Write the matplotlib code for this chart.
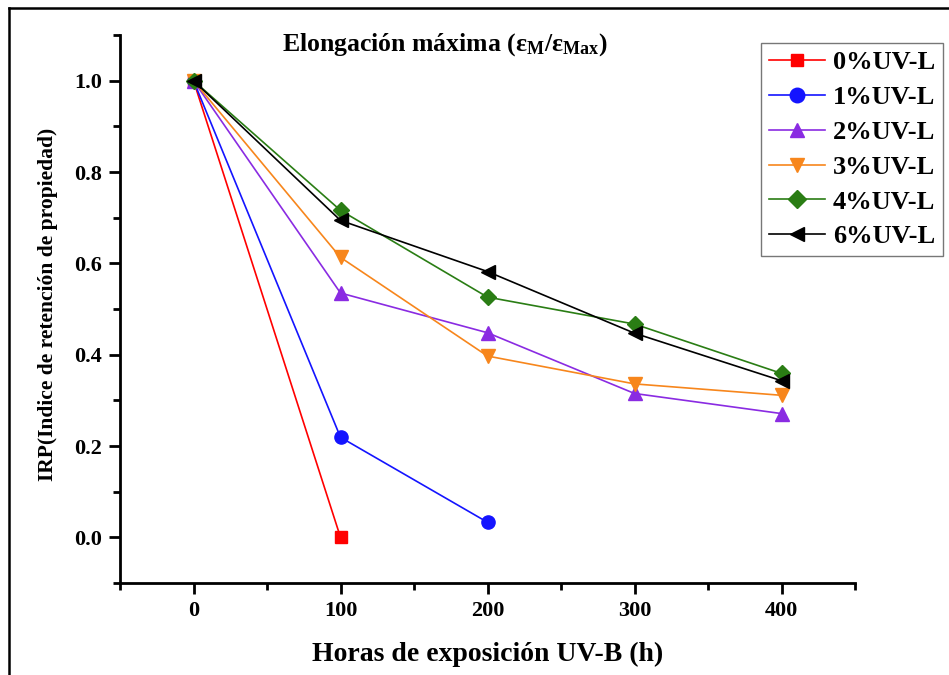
import matplotlib
matplotlib.use("Agg")
import matplotlib.pyplot as plt
from matplotlib.ticker import MultipleLocator
from matplotlib.lines import Line2D

plt.rcParams['font.family'] = ['Liberation Serif', 'DejaVu Serif']
plt.rcParams['font.weight'] = 'bold'
plt.rcParams['mathtext.fontset'] = 'custom'
plt.rcParams['mathtext.rm'] = 'Liberation Serif:bold'
plt.rcParams['mathtext.it'] = 'Liberation Serif:bold'
plt.rcParams['mathtext.bf'] = 'Liberation Serif:bold'

hours = [0, 100, 200, 300, 400]
labels = ["0%UV-L", "1%UV-L", "2%UV-L", "3%UV-L", "4%UV-L", "6%UV-L"]
irp_0 = [1.0, 0.0]
irp_1 = [1.0, 0.219, 0.033]
irp_2 = [1.0, 0.535, 0.448, 0.315, 0.271]
irp_3 = [1.0, 0.613, 0.397, 0.336, 0.311]
irp_4 = [1.0, 0.716, 0.526, 0.467, 0.359]
irp_6 = [1.0, 0.694, 0.582, 0.447, 0.343]

series = [irp_0, irp_1, irp_2, irp_3, irp_4, irp_6]
colors = ['#ff0000', '#1414ff', '#8a2be2', '#f7861c', '#2a7d14', '#000000']
markers = ['s', 'o', '^', 'v', 'D', '<']
msizes = [8, 9.5, 9.5, 9.5, 8.5, 9.5]

fig = plt.figure(figsize=(9.49, 6.75), dpi=100)
ax = fig.add_axes([120/949, 1-583/675, 735/949, 548/675])

for vals, c, m, ms, lab in zip(series, colors, markers, msizes, labels):
    ax.plot(hours[:len(vals)], vals, color=c, marker=m, markersize=ms,
            markerfacecolor=c, markeredgecolor=c, linewidth=1.2, label=lab)

ax.set_xlim(-50, 450)
ax.set_ylim(-0.1, 1.1)
ax.xaxis.set_major_locator(MultipleLocator(100))
ax.xaxis.set_minor_locator(MultipleLocator(50))
ax.yaxis.set_major_locator(MultipleLocator(0.2))
ax.yaxis.set_minor_locator(MultipleLocator(0.1))
ax.set_yticks([0.0, 0.2, 0.4, 0.6, 0.8, 1.0])
ax.set_xticks([0, 100, 200, 300, 400])
ax.yaxis.set_major_formatter(matplotlib.ticker.FormatStrFormatter('%.1f'))

for s in ['top', 'right']:
    ax.spines[s].set_visible(False)
for s in ['left', 'bottom']:
    ax.spines[s].set_linewidth(2)
ax.tick_params(which='major', direction='out', length=8, width=2, labelsize=16, pad=5)
ax.tick_params(which='minor', direction='out', length=5, width=2)
for t in ax.get_xticklabels() + ax.get_yticklabels():
    t.set_fontweight('bold')

ax.set_xlabel('Horas de exposición UV-B (h)', fontsize=20, fontweight='bold')
ax.set_ylabel('IRP(Indice de retención de propiedad)', fontsize=15.5, fontweight='bold')
ax.xaxis.set_label_coords(0.5, -0.108)
ax.yaxis.set_label_coords(-0.084, 0.509)

ax.text(0.442, 0.982, r'Elongación máxima ($\mathbf{\varepsilon_M/\varepsilon_{Max}}$)',
        transform=ax.transAxes, ha='center', va='center', fontsize=18.5, fontweight='bold')

leg = fig.legend(loc='upper right', bbox_to_anchor=(943/949, 1-43/675),
                 fontsize=19, frameon=True, fancybox=False, edgecolor='#555555',
                 handlelength=2.1, handletextpad=0.3, labelspacing=0.43,
                 borderpad=0.3, borderaxespad=0, markerscale=1.1)
leg.get_frame().set_linewidth(1)
for t in leg.get_texts():
    t.set_fontweight('bold')

fig.add_artist(Line2D([9/949, 9/949], [0, 1-8/675], transform=fig.transFigure, color='black', linewidth=1.8))
fig.add_artist(Line2D([9/949, 1], [1-8/675, 1-8/675], transform=fig.transFigure, color='black', linewidth=1.8))

fig.savefig('out.png', dpi=100)
